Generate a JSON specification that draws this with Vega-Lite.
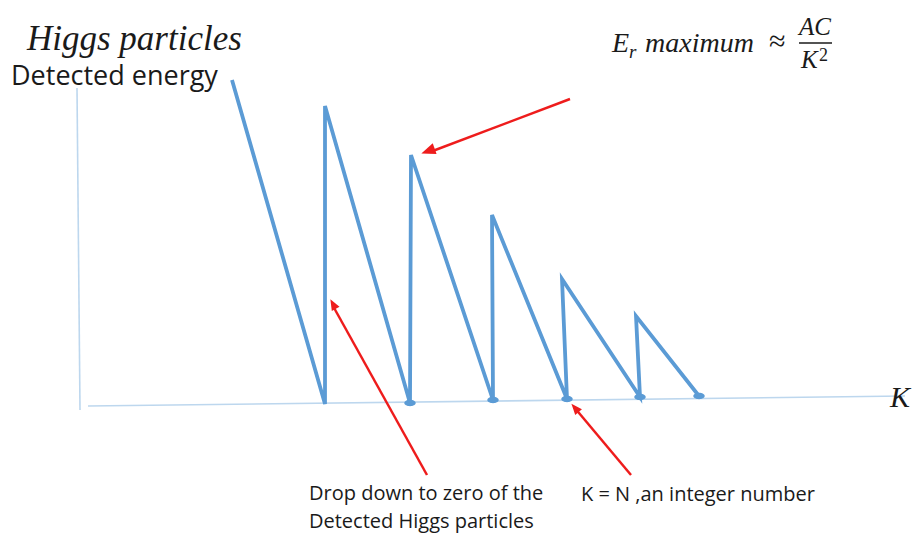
{
  "$schema": "https://vega.github.io/schema/vega-lite/v6.json",
  "width": 912,
  "height": 533,
  "padding": 0,
  "autosize": {"type": "fit", "contains": "padding"},
  "background": "white",
  "config": {"view": {"stroke": null}},
  "encoding": {
    "x": {"field": "x", "type": "quantitative", "axis": null, "scale": {"domain": [0, 9.12], "nice": false, "zero": false}},
    "y": {"field": "y", "type": "quantitative", "axis": null, "scale": {"domain": [-1.27, 4.06], "nice": false, "zero": false}}
  },
  "layer": [
    {
      "data": {"values": [
        {"x": 0.77, "y": 3.18, "x2": 0.80, "y2": -0.04},
        {"x": 0.88, "y": 0.00, "x2": 9.05, "y2": 0.10}
      ]},
      "mark": {"type": "rule", "color": "#bdd7ee", "strokeWidth": 1.6},
      "encoding": {"x2": {"field": "x2"}, "y2": {"field": "y2"}}
    },
    {
      "data": {"values": [
        {"i": 1, "x": 2.32, "y": 3.26},
        {"i": 2, "x": 3.25, "y": 0.02},
        {"i": 3, "x": 3.25, "y": 3.00},
        {"i": 4, "x": 4.10, "y": 0.03},
        {"i": 5, "x": 4.11, "y": 2.51},
        {"i": 6, "x": 4.93, "y": 0.06},
        {"i": 7, "x": 4.92, "y": 1.91},
        {"i": 8, "x": 5.67, "y": 0.07},
        {"i": 9, "x": 5.62, "y": 1.27},
        {"i": 10, "x": 6.40, "y": 0.09},
        {"i": 11, "x": 6.36, "y": 0.90},
        {"i": 12, "x": 6.99, "y": 0.10}
      ]},
      "mark": {"type": "line", "color": "#5b9bd5", "strokeWidth": 3.8, "strokeJoin": "miter", "strokeMiterLimit": 4},
      "encoding": {"order": {"field": "i", "type": "quantitative"}}
    },
    {
      "data": {"values": [
        {"x": 4.10, "y": 0.03},
        {"x": 4.93, "y": 0.06},
        {"x": 5.67, "y": 0.07},
        {"x": 6.40, "y": 0.09},
        {"x": 6.99, "y": 0.10}
      ]},
      "mark": {"type": "point", "filled": true, "color": "#5b9bd5", "opacity": 1, "size": 130, "shape": "M-1,0A1,0.55 0 1,0 1,0A1,0.55 0 1,0 -1,0Z"}
    },
    {
      "data": {"values": [
        {"x": 5.70, "y": 3.07, "x2": 4.30, "y2": 2.54},
        {"x": 4.27, "y": -0.69, "x2": 3.33, "y2": 1.00},
        {"x": 6.31, "y": -0.69, "x2": 5.74, "y2": -0.01}
      ]},
      "mark": {"type": "rule", "color": "#ee1c1c", "strokeWidth": 2.5},
      "encoding": {"x2": {"field": "x2"}, "y2": {"field": "y2"}}
    },
    {
      "data": {"values": [
        {"x": 4.28, "y": 2.55, "angle": 250.2}
      ]},
      "mark": {"type": "point", "filled": true, "color": "#ee1c1c", "opacity": 1, "size": 200, "shape": "M0,-1L0.8,1L-0.8,1Z"},
      "encoding": {"angle": {"field": "angle", "type": "quantitative", "scale": null}}
    },
    {
      "data": {"values": [
        {"x": 3.33, "y": 1.02, "angle": 331.1},
        {"x": 5.75, "y": -0.02, "angle": 319.4}
      ]},
      "mark": {"type": "point", "filled": true, "color": "#ee1c1c", "opacity": 1, "size": 121, "shape": "M0,-1L0.8,1L-0.8,1Z"},
      "encoding": {"angle": {"field": "angle", "type": "quantitative", "scale": null}}
    },
    {
      "data": {"values": [
        {"x": 0.27, "y": 3.56, "t": "Higgs particles"}
      ]},
      "mark": {"type": "text", "align": "left", "baseline": "alphabetic", "font": "Liberation Serif", "fontStyle": "italic", "fontSize": 35, "color": "#1a1a1a"},
      "encoding": {"text": {"field": "t"}}
    },
    {
      "data": {"values": [
        {"x": 0.11, "y": 3.21, "t": "Detected energy"}
      ]},
      "mark": {"type": "text", "align": "left", "baseline": "alphabetic", "font": "Open Sans", "fontSize": 27, "color": "#1a1a1a"},
      "encoding": {"text": {"field": "t"}}
    },
    {
      "data": {"values": [
        {"x": 3.09, "y": -0.94, "t": "Drop down to zero of the\nDetected Higgs particles"},
        {"x": 5.81, "y": -0.95, "t": "K = N ,an integer number"}
      ]},
      "mark": {"type": "text", "align": "left", "baseline": "alphabetic", "font": "Open Sans", "fontSize": 20, "lineBreak": "\n", "lineHeight": 27.5, "color": "#1a1a1a"},
      "encoding": {"text": {"field": "t"}}
    },
    {
      "data": {"values": [
        {"x": 6.12, "y": 3.54, "t": "E"},
        {"x": 6.45, "y": 3.54, "t": "maximum"}
      ]},
      "mark": {"type": "text", "align": "left", "baseline": "alphabetic", "font": "Liberation Serif", "fontStyle": "italic", "fontSize": 28, "color": "#1a1a1a"},
      "encoding": {"text": {"field": "t"}}
    },
    {
      "data": {"values": [
        {"x": 6.29, "y": 3.48, "t": "r"}
      ]},
      "mark": {"type": "text", "align": "left", "baseline": "alphabetic", "font": "Liberation Serif", "fontStyle": "italic", "fontSize": 19, "color": "#1a1a1a"},
      "encoding": {"text": {"field": "t"}}
    },
    {
      "data": {"values": [
        {"x": 7.69, "y": 3.55, "t": "≈"}
      ]},
      "mark": {"type": "text", "align": "left", "baseline": "alphabetic", "font": "Liberation Serif", "fontSize": 30, "color": "#1a1a1a"},
      "encoding": {"text": {"field": "t"}}
    },
    {
      "data": {"values": [
        {"x": 8.15, "y": 3.71, "t": "AC"}
      ]},
      "mark": {"type": "text", "align": "center", "baseline": "alphabetic", "font": "Liberation Serif", "fontStyle": "italic", "fontSize": 25, "color": "#1a1a1a"},
      "encoding": {"text": {"field": "t"}}
    },
    {
      "data": {"values": [
        {"x": 7.99, "y": 3.63, "x2": 8.32, "y2": 3.63}
      ]},
      "mark": {"type": "rule", "color": "#1a1a1a", "strokeWidth": 1.5},
      "encoding": {"x2": {"field": "x2"}, "y2": {"field": "y2"}}
    },
    {
      "data": {"values": [
        {"x": 8.01, "y": 3.38, "t": "K"}
      ]},
      "mark": {"type": "text", "align": "left", "baseline": "alphabetic", "font": "Liberation Serif", "fontStyle": "italic", "fontSize": 25, "color": "#1a1a1a"},
      "encoding": {"text": {"field": "t"}}
    },
    {
      "data": {"values": [
        {"x": 8.19, "y": 3.45, "t": "2"}
      ]},
      "mark": {"type": "text", "align": "left", "baseline": "alphabetic", "font": "Liberation Serif", "fontSize": 18, "color": "#1a1a1a"},
      "encoding": {"text": {"field": "t"}}
    },
    {
      "data": {"values": [
        {"x": 8.90, "y": -0.01, "t": "K"}
      ]},
      "mark": {"type": "text", "align": "left", "baseline": "alphabetic", "font": "Liberation Serif", "fontStyle": "italic", "fontSize": 30, "color": "#1a1a1a"},
      "encoding": {"text": {"field": "t"}}
    }
  ]
}
